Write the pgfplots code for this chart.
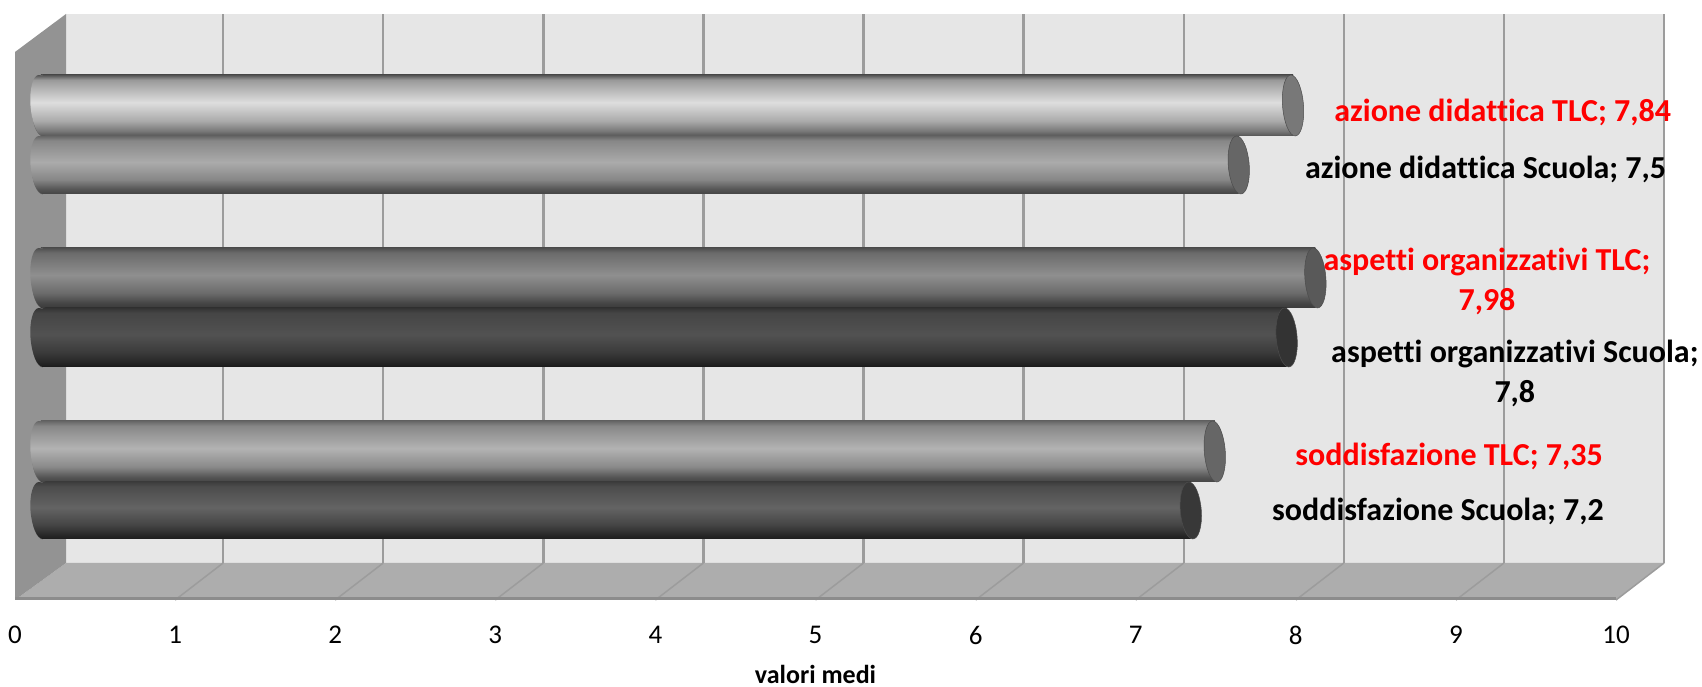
\documentclass[border=0pt]{standalone}
\usepackage{fontspec}
\setmainfont{Carlito}[Ligatures=NoCommon]
\usepackage{pgfplots}
\pgfplotsset{compat=1.18}
\usetikzlibrary{shapes.geometric}
\newcommand{\cyl}[7]{\pgfdeclareverticalshading{#1}{100bp}{gray(0bp)=(#7); gray(25bp)=(#7); gray(29bp)=(#6); gray(37.5bp)=(#5); gray(52.5bp)=(#4); gray(71bp)=(#3); gray(75bp)=(#2); gray(100bp)=(#2)}}
\cyl{cylA}{.33}{.60}{.87}{.67}{.47}{.33}
\cyl{cylB}{.40}{.53}{.67}{.53}{.33}{.27}
\cyl{cylC}{.31}{.42}{.56}{.42}{.27}{.23}
\cyl{cylD}{.20}{.27}{.32}{.23}{.15}{.10}
\cyl{cylE}{.40}{.53}{.70}{.54}{.33}{.27}
\cyl{cylF}{.24}{.30}{.39}{.27}{.16}{.11}
\definecolor{wallback}{HTML}{E6E6E6}
\definecolor{wallside}{HTML}{939393}
\definecolor{wallfloor}{HTML}{ADADAD}
\definecolor{wallline}{HTML}{9C9C9C}
\definecolor{edgeline}{HTML}{8C8C8C}
\newcommand{\lab}{\fontsize{32}{40}\selectfont\bfseries}
% one cylinder: value, y centre, thickness, shading, cap grey
\newcommand{\cylinder}[5]{%
  \addplot[only marks, mark=none, point meta=explicit symbolic, nodes near coords={},
    every node near coord/.style={anchor=center, ellipse, inner sep=0pt, xslant=-0.07,
      minimum width=21pt, minimum height=#3pt, shade, shading=#4, draw=none}]
    coordinates {(0,#2)};
  \addplot[xbar, bar width=#3pt, bar shift=0pt, draw=none, shade, shading=#4]
    coordinates {(#1,#2)};
  \draw[black!60, line width=.8pt] (axis cs:0,#2) ++(2pt,#3pt/2) arc[start angle=90, end angle=270, x radius=11pt, y radius=#3pt/2];
  \addplot[only marks, mark=*, mark size=10.5pt,
    mark options={xslant=-0.07, yscale=#3/21, fill=black!#5, draw=black!70, line width=.5pt}]
    coordinates {(#1,#2)};
}
\begin{document}
\begin{tikzpicture}[x=1pt,y=1pt]
\useasboundingbox (0,0) rectangle (1702,687);
\begin{axis}[name=frame, at={(15pt,87pt)}, anchor=south west, scale only axis,
  width=1687pt, height=586pt, xmin=0, xmax=10.537, ymin=87, ymax=673,
  clip=false, axis line style={draw=none}, xtick={0,1,...,10}, ytick=\empty,
  tick style={draw=none}, axis x line*=bottom, axis y line*=left,
  /pgf/number format/assume math mode=true,
  xticklabel style={anchor=center, yshift=-35pt, font=\fontsize{27}{30}\selectfont},
  xlabel={\fontsize{26}{28}\selectfont\bfseries valori medi},
  every axis x label/.style={at={(axis cs:5,13)}, anchor=center},
]
\fill[wallback] (axis cs:0.3186,124) rectangle (axis cs:10.30,673);
\fill[wallfloor] (axis cs:0,87) -- (axis cs:0.3186,124) -- (axis cs:10.30,124) -- (axis cs:10,87) -- cycle;
\fill[wallside] (axis cs:0,87) -- (axis cs:0,635) -- (axis cs:0.3186,673) -- (axis cs:0.3186,124) -- cycle;
\pgfplotsinvokeforeach{1,...,10}{
  \draw[wallline, line width=1.5pt] (axis cs:#1,87) -- (axis cs:#1+0.3,124);
  \draw[wallline, line width=2.4pt] (axis cs:#1+0.3,124) -- (axis cs:#1+0.3,673);
}
\draw[edgeline, line width=3pt] (axis cs:0,88) -- (axis cs:10,88);
\end{axis}
\begin{axis}[at={(15pt,87pt)}, anchor=south west, scale only axis, hide axis,
  width=1687pt, height=586pt, xmin=-0.1628, xmax=10.401, ymin=87, ymax=673, clip=false]
% azione didattica
\cylinder{7.84}{581.5}{61}{cylA}{53}
\cylinder{7.5}{522}{58}{cylB}{60}
% aspetti organizzativi
\cylinder{7.98}{409}{60}{cylC}{65}
\cylinder{7.8}{349.5}{59}{cylD}{80}
% soddisfazione
\cylinder{7.35}{235.5}{61}{cylE}{60}
\cylinder{7.2}{176.5}{57}{cylF}{78}
\end{axis}
\begin{axis}[at={(15pt,87pt)}, anchor=south west, scale only axis, hide axis,
  width=1687pt, height=586pt, xmin=0, xmax=10.537, ymin=87, ymax=673, clip=false]
\addplot[draw=none, forget plot] coordinates {(0,87)};
\node[red, font=\lab, align=center] at (axis cs:9.292,575) {azione didattica TLC; 7,84};
\node[black, font=\lab, align=center] at (axis cs:9.185,518) {azione didattica Scuola; 7,5};
\node[red, font=\lab, align=center] at (axis cs:9.194,405.5) {aspetti organizzativi TLC;\\7,98};
\node[black, font=\lab, align=center] at (axis cs:9.368,313.5) {aspetti organizzativi Scuola;\\7,8};
\node[red, font=\lab, align=center] at (axis cs:8.957,231) {soddisfazione TLC; 7,35};
\node[black, font=\lab, align=center] at (axis cs:8.888,176) {soddisfazione Scuola; 7,2};
\end{axis}
\end{tikzpicture}
\end{document}
